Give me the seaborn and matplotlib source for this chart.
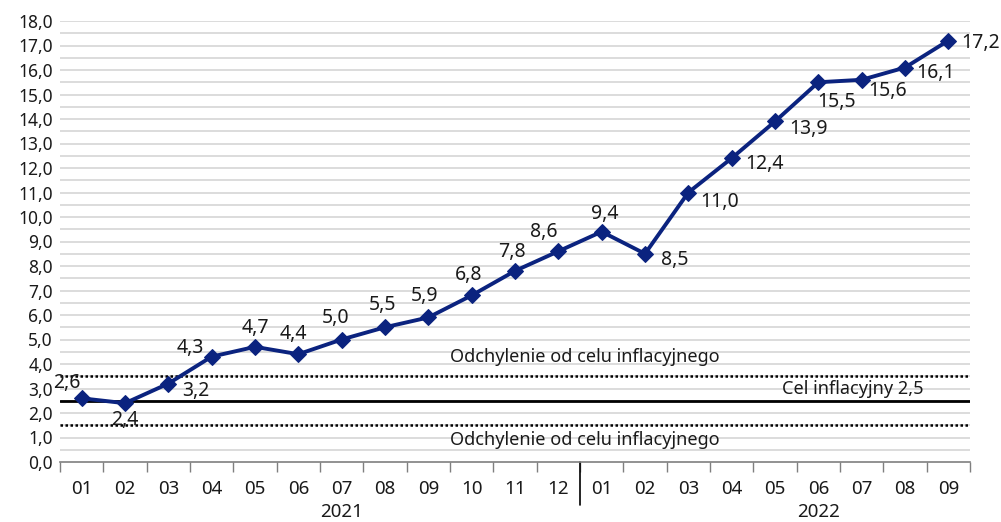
import matplotlib
matplotlib.use("Agg")
import matplotlib.pyplot as plt
import matplotlib.ticker as mticker
import matplotlib.transforms as mtransforms
import seaborn as sns
import numpy as np
import pandas as pd

# --- data ---
months = ["01", "02", "03", "04", "05", "06", "07", "08", "09", "10", "11", "12",
          "01", "02", "03", "04", "05", "06", "07", "08", "09"]
cpi = [2.6, 2.4, 3.2, 4.3, 4.7, 4.4, 5.0, 5.5, 5.9, 6.8, 7.8, 8.6,
       9.4, 8.5, 11.0, 12.4, 13.9, 15.5, 15.6, 16.1, 17.2]
years = ["2021", "2022"]
target = 2.5
band_upper = 3.5
band_lower = 1.5

# label offsets in pixels (dx, dy) and alignment for each point
label_offsets = [(-15, 15), (0, -17), (14, -7), (-8, 9), (0, 19), (-5, 20), (-6, 21),
                 (-2, 22), (-4, 21), (-3, 20), (-3, 19), (-15, 19), (3, 18), (16, -6),
                 (12, -9), (14, -6), (14, -8), (18, -20), (26, -11), (31, -5), (13, -2)]
label_ha = ["center", "center", "left", "right", "center", "center", "center",
            "center", "center", "center", "center", "center", "center", "left",
            "left", "left", "left", "center", "center", "center", "left"]

df = pd.DataFrame({"idx": np.arange(len(cpi)), "cpi": cpi})

sns.set_theme(style="white")
plt.rcParams["font.family"] = ["Noto Sans", "DejaVu Sans"]

fig = plt.figure(figsize=(10.01, 5.22), dpi=100)
ax = fig.add_axes([60 / 1001, 60 / 522, 910 / 1001, 441 / 522])

navy = "#0b237f"
txt = "#1a1a1a"

# grid every 0.5
for v in np.arange(0.5, 18.01, 0.5):
    ax.axhline(v, color="#d9d9d9", lw=1.3, zorder=0)

# target and band
ax.axhline(target, color="black", lw=2.0, zorder=2)
ax.axhline(band_upper, color="black", lw=1.8, ls=(0, (1, 1)), zorder=2)
ax.axhline(band_lower, color="black", lw=1.8, ls=(0, (1, 1)), zorder=2)

sns.lineplot(data=df, x="idx", y="cpi", ax=ax, color=navy, lw=2.8,
             marker="D", markersize=8, markeredgecolor=navy, zorder=4)

for i, v in enumerate(cpi):
    dx, dy = label_offsets[i]
    ax.annotate(f"{v:.1f}".replace(".", ","), (i, v), xytext=(dx, dy),
                textcoords="offset pixels", ha=label_ha[i], va="center",
                fontsize=14, color=txt, zorder=5)

ax.text(11.6, 4.3, "Odchylenie od celu inflacyjnego", ha="center", va="center",
        fontsize=13, color=txt)
ax.text(11.6, 0.9, "Odchylenie od celu inflacyjnego", ha="center", va="center",
        fontsize=13, color=txt)
ax.text(17.8, 3.0, "Cel inflacyjny 2,5", ha="center", va="center",
        fontsize=13, color=txt)

ax.set_xlim(-0.5, len(cpi) - 0.5)
ax.set_ylim(0, 18)
ax.set_yticks(np.arange(0, 18.01, 1.0))
ax.yaxis.set_major_formatter(mticker.FuncFormatter(lambda v, p: f"{v:.1f}".replace(".", ",")))
ax.tick_params(axis="y", length=0, labelsize=12.5, pad=5, labelcolor=txt)

ax.set_xticks(np.arange(-0.5, len(cpi), 1.0))
ax.set_xticklabels([])
ax.tick_params(axis="x", which="major", length=7, color="#7f7f7f", width=1, direction="out", bottom=True)
ax.set_xticks(np.arange(len(cpi)), minor=True)
ax.set_xticklabels(months, minor=True)
ax.tick_params(axis="x", which="minor", length=0, labelsize=13.5, pad=13, labelcolor=txt)

for s in ["top", "right", "left"]:
    ax.spines[s].set_visible(False)
ax.spines["bottom"].set_color("#7f7f7f")
ax.spines["bottom"].set_linewidth(1.2)

ax.set_xlabel("")
ax.set_ylabel("")

trans = mtransforms.blended_transform_factory(ax.transData, ax.transAxes)
ax.plot([11.5, 11.5], [0, -43 / 441], color="black", lw=1.2, transform=trans, clip_on=False)
ax.text(6.0, -50 / 441, years[0], transform=trans, ha="center", va="center",
        fontsize=13.5, color=txt)
ax.text(17.0, -50 / 441, years[1], transform=trans, ha="center", va="center",
        fontsize=13.5, color=txt)

fig.savefig("out.png", dpi=100)
